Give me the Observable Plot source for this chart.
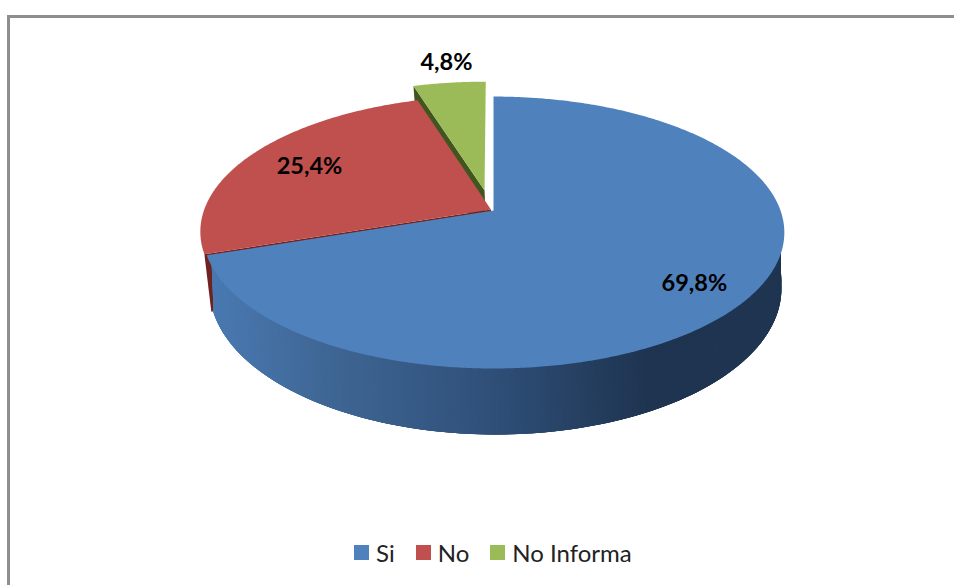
<!DOCTYPE html>
<html>
<head>
<meta charset="utf-8">
<script src="https://cdn.jsdelivr.net/npm/d3@7"></script>
<script src="https://cdn.jsdelivr.net/npm/@observablehq/plot@0.6"></script>
<style>
  html, body { margin: 0; padding: 0; background: #fff; width: 954px; height: 585px; overflow: hidden; }
  #frame { position: absolute; left: 7px; top: 15px; right: -10px; bottom: -10px; border: 3px solid #8e8e8e; box-sizing: border-box; }
  #chart { position: absolute; left: 0; top: 0; }
  #legend { position: absolute; left: 354px; top: 538px; white-space: nowrap; }
  #legend > * { margin: 0 !important; min-height: 0 !important; }
  #legend span { margin-right: 21px !important; }
  #legend svg { margin-right: 7px !important; }
</style>
</head>
<body>
<div id="frame"></div>
<div id="chart"></div>
<div id="legend"></div>
<script>
// Data
const categories = ["Si", "No", "No Informa"];
const shares = [69.8, 25.4, 4.8];
const labels = ["69,8%", "25,4%", "4,8%"];

// Appearance
const colors = ["#4f81bd", "#c0504d", "#9bbb59"];
const wallColors = [null, "#6f2220", "#41551f"];
const wallRamp = d3.scaleLinear()
  .domain([-1, -0.6, 0, 0.55, 1])
  .range(["#4a79b2", "#3f6795", "#2f4f78", "#1e3450", "#1f3551"]);

// Perspective model of the tilted disc
const perspective = 0.162, lowerScaleX = 0.983, lowerScaleY = 1.074, lowerDrop = 0.41, lowerShift = 0.007;
const explode = [[0, 0], [-0.009, -0.007], [-0.032, -0.155]];
const labelAt = [[0.70, 0.551], [-0.641, -0.332], [-0.164, -1.118]];
const project = (u, v, lower) => {
  const w = 1 - perspective * v;
  return lower
    ? {X: lowerShift + lowerScaleX * u / w, Y: lowerDrop + lowerScaleY * v / w}
    : {X: u / w, Y: v / w};
};
const rim = (turn, i, lower, radius = 1) => {
  const a = turn * 2 * Math.PI;
  return project(radius * Math.sin(a) + explode[i][0], -radius * Math.cos(a) + explode[i][1], lower);
};
const apex = (i, lower) => project(explode[i][0], explode[i][1], lower);

// Geometry derived from the shares
const total = d3.sum(shares);
let acc = 0;
const slices = shares.map((s, i) => {
  const start = acc / total; acc += s;
  return {i, cat: categories[i], start, end: acc / total};
});
const arc = (from, to) => {
  const n = Math.max(2, Math.ceil((to - from) * 720));
  return d3.range(n + 1).map(k => from + (to - from) * k / n);
};
const topFace = s => [apex(s.i), ...arc(s.start, s.end).map(t => rim(t, s.i))]
  .map(p => ({...p, cat: s.cat}));
const quad = (id, c, ...pts) => pts.map(p => ({...p, id, c}));
const inset = 0.985;
const wallsOf = s => {
  if (s.i === 0) {
    const ts = arc(0.16, s.end), out = [];
    ts.slice(0, -1).forEach((a, k) => {
      const b = ts[Math.min(k + 4, ts.length - 1)]; // overlap the next strips to hide seams
      out.push(...quad("b" + k, wallRamp(rim((a + ts[k + 1]) / 2, 0).X),
        rim(a, 0, false, inset), rim(b, 0, false, inset), rim(b, 0, true), rim(a, 0, true)));
    });
    return out;
  }
  const c = wallColors[s.i];
  const radial = quad("r", c, apex(s.i), rim(s.start, s.i), rim(s.start, s.i, true), apex(s.i, true));
  if (s.i === 2) return radial;
  return radial;
};

const marks = [];
[...slices].reverse().forEach(s => {
  marks.push(Plot.line(wallsOf(s), {x: "X", y: "Y", z: "id", fill: {value: "c", scale: null}, stroke: "none"}));
  marks.push(Plot.line(topFace(s), {x: "X", y: "Y", z: "cat", fill: "cat", stroke: "none"}));
});
const labelRows = labels.map((text, i) => ({text, X: labelAt[i][0], Y: labelAt[i][1]}));
marks.push(Plot.text(labelRows, {x: "X", y: "Y", text: "text", fontSize: 23.5, fontWeight: 700, fontFamily: "Lato", fill: "#000", stroke: "none"}));

const W = 954, H = 585, cx = 493, cy = 210, A = 287, B = 132.4;
const plot = Plot.plot({
  width: W, height: H,
  marginTop: 0, marginRight: 0, marginBottom: 0, marginLeft: 0,
  style: {background: "transparent", overflow: "visible"},
  x: {axis: null, domain: [-cx / A, (W - cx) / A], range: [0, W]},
  y: {axis: null, domain: [-cy / B, (H - cy) / B], range: [0, H]},
  color: {domain: categories, range: colors},
  marks
});
document.getElementById("chart").append(plot);
const legend = plot.legend("color", {swatchSize: 15, className: "lg", style: {fontFamily: "Lato", fontSize: "24px", color: "#222", background: "transparent"}});
document.getElementById("legend").append(legend);
</script>
</body>
</html>
